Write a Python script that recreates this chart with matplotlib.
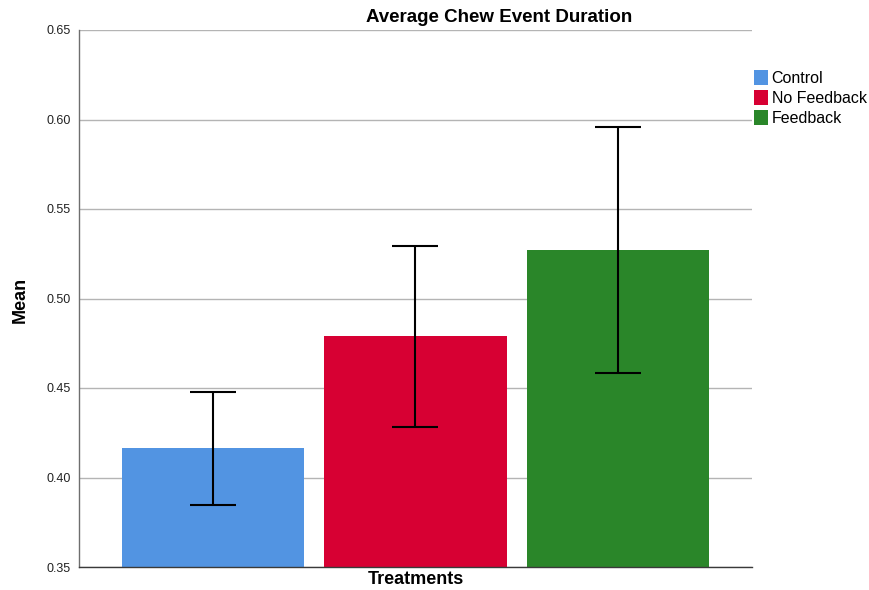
import matplotlib
matplotlib.use("Agg")
import matplotlib.pyplot as plt
from matplotlib.patches import Patch

plt.rcParams['font.family'] = ['Liberation Sans', 'DejaVu Sans']

groups = ["Control", "No Feedback", "Feedback"]
means = [0.4165, 0.479, 0.527]
ci_low = [0.3848, 0.4282, 0.4584]
ci_high = [0.4478, 0.5295, 0.596]
colors = ["#5294e2", "#d70033", "#2a8629"]
yticks = [0.35, 0.40, 0.45, 0.50, 0.55, 0.60, 0.65]

fig = plt.figure(figsize=(8.7, 5.9), dpi=100)
ax = fig.add_axes([79/870, 23/590, (752-79)/870, (567-30)/590])

pos = list(range(len(groups)))
ax.bar(pos, means, width=0.9, color=colors, zorder=2)
err = [[m - lo for m, lo in zip(means, ci_low)],
       [hi - m for m, hi in zip(means, ci_high)]]
ax.errorbar(pos, means, yerr=err, fmt='none', ecolor='black',
            elinewidth=1.5, capsize=16.5, capthick=1.5, zorder=3)

ax.set_xlim(-0.66, 2.66)
ax.set_ylim(0.35, 0.65)
ax.set_yticks(yticks)
ax.set_yticklabels([f"{t:.2f}" for t in yticks], fontsize=9, color='#222222')
ax.set_xticks([])
ax.tick_params(axis='y', length=0, pad=6)
ax.grid(axis='y', color='#b4b4b4', linewidth=1.0, zorder=0)
ax.set_axisbelow(True)
for s in ('top', 'right'):
    ax.spines[s].set_visible(False)
ax.spines['left'].set_color('#6e6e6e')
ax.spines['bottom'].set_color('#3a3a3a')
ax.spines['left'].set_linewidth(1.0)
ax.spines['bottom'].set_linewidth(1.0)

fig.text(20/870, 1 - 300/590, "Mean", fontsize=13, fontweight='bold',
         rotation=90, ha='center', va='center')
fig.text(416/870, 1 - 579/590, "Treatments", fontsize=13, fontweight='bold',
         ha='center', va='center')
fig.text(499/870, 1 - 18/590, "Average Chew Event Duration", fontsize=13.5,
         fontweight='bold', ha='center', va='center')

handles = [Patch(facecolor=c, edgecolor='none', label=g) for c, g in zip(colors, groups)]
fig.legend(handles=handles, loc='upper left', bbox_to_anchor=(754/870, 1 - 70/590),
           frameon=False, fontsize=11.5, handlelength=0.85, handleheight=1.05,
           handletextpad=0.25, labelspacing=0.27, borderpad=0, borderaxespad=0)

fig.savefig("out.png", dpi=100)
